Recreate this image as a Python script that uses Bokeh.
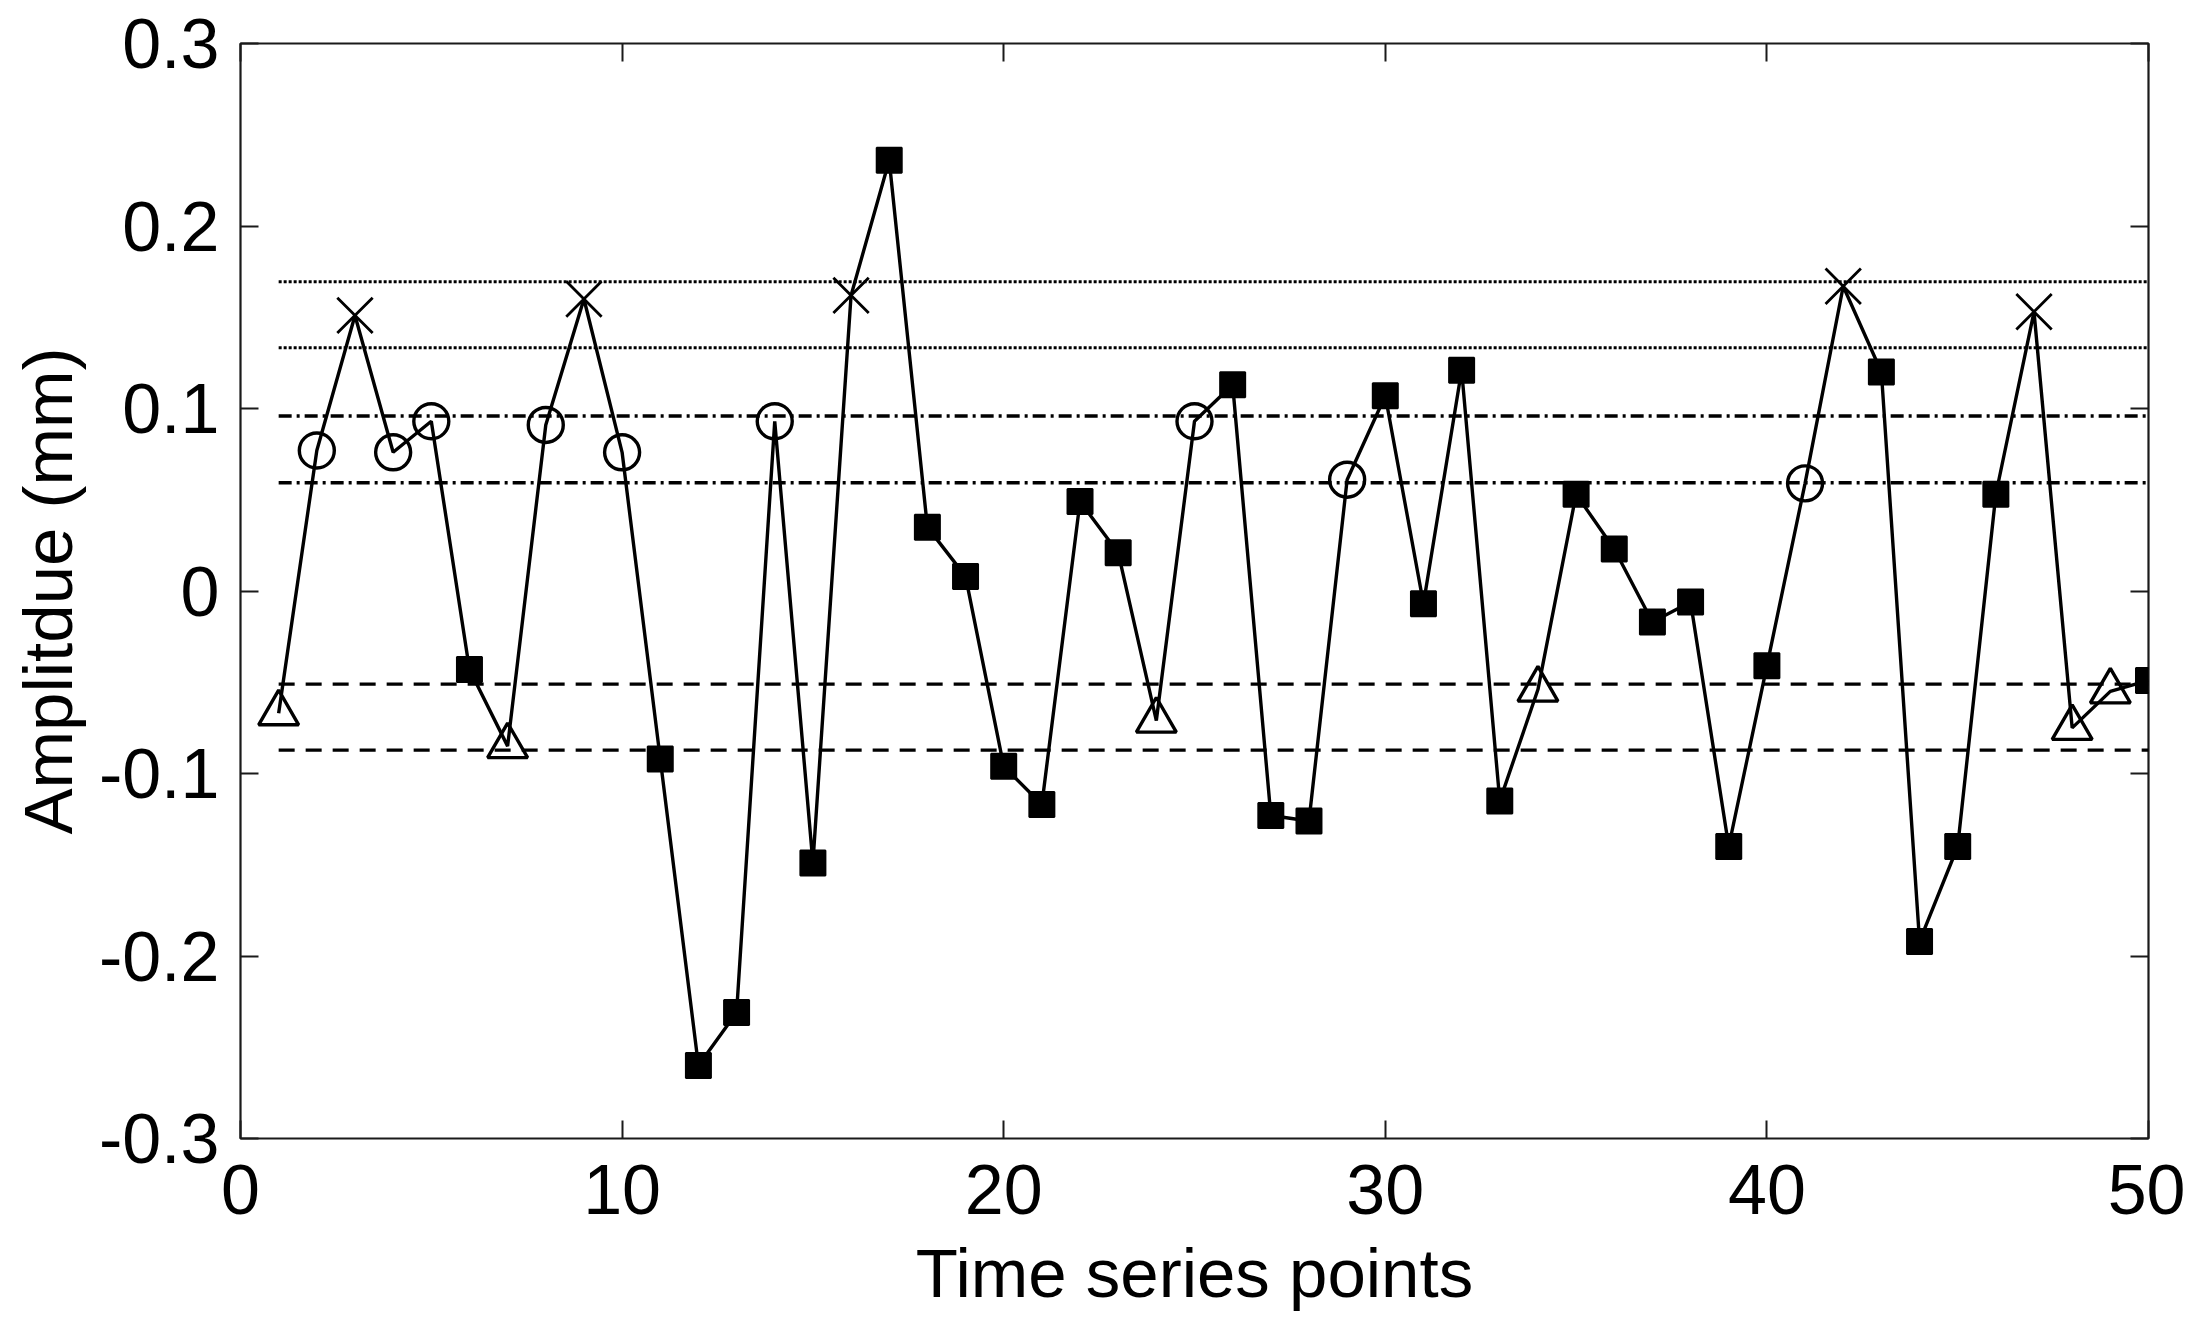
from bokeh.plotting import figure
from bokeh.models import (FixedTicker, LinearAxis, Range1d, ColumnDataSource,
                          CDSView, GroupFilter)
from bokeh.embed import file_html
from bokeh.resources import INLINE

# ---------------- data ----------------
x_points = list(range(1, 51))
amplitude = [
    -0.067, 0.077, 0.151, 0.076, 0.093, -0.043, -0.085, 0.091, 0.160, 0.076,
    -0.092, -0.260, -0.231, 0.093, -0.149, 0.162, 0.236, 0.035, 0.008, -0.096,
    -0.117, 0.049, 0.021, -0.071, 0.093, 0.113, -0.123, -0.126, 0.061, 0.107,
    -0.007, 0.121, -0.115, -0.054, 0.053, 0.023, -0.017, -0.006, -0.140, -0.041,
    0.059, 0.167, 0.120, -0.192, -0.140, 0.053, 0.153, -0.075, -0.055, -0.049,
]
point_class = [
    "tri", "circ", "x", "circ", "circ", "sq", "tri", "circ", "x", "circ",
    "sq", "sq", "sq", "circ", "sq", "x", "sq", "sq", "sq", "sq",
    "sq", "sq", "sq", "tri", "circ", "sq", "sq", "sq", "circ", "sq",
    "sq", "sq", "sq", "tri", "sq", "sq", "sq", "sq", "sq", "sq",
    "circ", "x", "sq", "sq", "sq", "sq", "x", "tri", "tri", "sq",
]
dotted_levels = [0.1695, 0.1333]
dashdot_levels = [0.0959, 0.0593]
dashed_levels = [-0.051, -0.0872]

x_ticks = [0, 10, 20, 30, 40, 50]
x_tick_labels = ["0", "10", "20", "30", "40", "50"]
y_ticks = [-0.3, -0.2, -0.1, 0.0, 0.1, 0.2, 0.3]
y_tick_labels = ["-0.3", "-0.2", "-0.1", "0", "0.1", "0.2", "0.3"]
x_label = "Time series points"
y_label = "Amplitdue (mm)"

# ---------------- figure ----------------
FONT = "Liberation Sans"
p = figure(width=2185, height=1317,
           x_range=Range1d(0, 50), y_range=Range1d(-0.3, 0.3),
           output_backend="svg", toolbar_location=None,
           min_border_left=240, min_border_right=37,
           min_border_top=43, min_border_bottom=179)
p.background_fill_color = "white"
p.border_fill_color = "white"
p.outline_line_color = "#1a1a1a"
p.outline_line_width = 2.2
p.xgrid.visible = False
p.ygrid.visible = False

def style_axis(ax, ticks, labels, show_labels=True):
    ax.ticker = FixedTicker(ticks=ticks)
    ax.axis_line_color = None
    ax.major_tick_in = 18
    ax.major_tick_out = 0
    ax.major_tick_line_color = "#1a1a1a"
    ax.major_tick_line_width = 2
    ax.minor_tick_line_color = None
    ax.major_label_text_font = FONT
    ax.major_label_text_color = "black"
    if show_labels:
        ax.major_label_overrides = {t: l for t, l in zip(ticks, labels)}
        ax.major_label_text_font_size = "70px"
    else:
        ax.major_label_overrides = {t: "" for t in ticks}
        ax.major_label_text_font_size = "10px"
        ax.major_label_standoff = 0

xa = p.xaxis[0]
ya = p.yaxis[0]
style_axis(xa, x_ticks, x_tick_labels)
style_axis(ya, y_ticks, y_tick_labels)
xa.major_label_standoff = 26
ya.major_label_standoff = 21
xa.axis_label = x_label
ya.axis_label = y_label
for ax in (xa, ya):
    ax.axis_label_text_font = FONT
    ax.axis_label_text_font_size = "69px"
    ax.axis_label_text_font_style = "normal"
    ax.axis_label_text_color = "black"
xa.axis_label_standoff = 18
ya.axis_label_standoff = 9

top = LinearAxis()
style_axis(top, x_ticks, x_tick_labels, show_labels=False)
p.add_layout(top, "above")
right = LinearAxis()
style_axis(right, y_ticks, y_tick_labels, show_labels=False)
p.add_layout(right, "right")

# ---------------- reference levels ----------------
x_span = [x_points[0], x_points[-1]]
p.multi_line(xs=[x_span for _ in dotted_levels], ys=[[v, v] for v in dotted_levels],
             line_color="black", line_width=3, line_dash="3 2")
p.multi_line(xs=[x_span for _ in dashdot_levels], ys=[[v, v] for v in dashdot_levels],
             line_color="black", line_width=3.4, line_dash="13 5 3 5")
p.multi_line(xs=[x_span for _ in dashed_levels], ys=[[v, v] for v in dashed_levels],
             line_color="black", line_width=3.4, line_dash="16 11")

# ---------------- series ----------------
src = ColumnDataSource(dict(x=x_points, y=amplitude, cls=point_class))
p.line("x", "y", source=src, line_color="black", line_width=3.4)

def view(name):
    return CDSView(filter=GroupFilter(column_name="cls", group=name))

p.scatter("x", "y", source=src, view=view("sq"), marker="square", size=25,
          fill_color="black", line_color="black", line_width=2)
p.scatter("x", "y", source=src, view=view("circ"), marker="circle", size=35,
          fill_color=None, line_color="black", line_width=3.4)
p.scatter("x", "y", source=src, view=view("tri"), marker="triangle", size=40,
          fill_color=None, line_color="black", line_width=3.4)
p.scatter("x", "y", source=src, view=view("x"), marker="x", size=50,
          fill_color=None, line_color="black", line_width=2.8)

open("out.html", "w").write(file_html(p, INLINE))
